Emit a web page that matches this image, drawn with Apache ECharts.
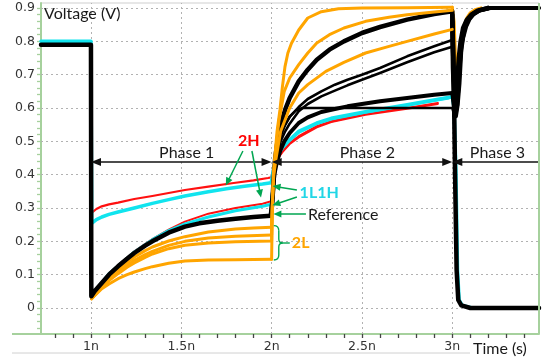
<!DOCTYPE html>
<html><head><meta charset="utf-8">
<script src="https://cdn.jsdelivr.net/npm/echarts@6/dist/echarts.min.js"></script>
<style>html,body{margin:0;padding:0;background:#fff}#c{width:551px;height:359px}</style>
</head><body><div id="c"></div>
<script>
// ---- axis ticks / labels (time in ns, voltage in V) ----
const xLabelValues = [1, 1.5, 2, 2.5, 3];
const xLabelTexts  = ['1n', '1.5n', '2n', '2.5n', '3n'];
const xMinorTicks  = [0.8,0.9,1.0,1.1,1.2,1.3,1.4,1.5,1.6,1.7,1.8,1.9,2.0,2.1,2.2,2.3,2.4,2.5,2.6,2.7,2.8,2.9,3.0,3.1,3.2,3.3,3.4];
const yLabelValues = [0, 0.1, 0.2, 0.3, 0.4, 0.5, 0.6, 0.7, 0.8, 0.9];
const yLabelTexts  = ['0','0.1','0.2','0.3','0.4','0.5','0.6','0.7','0.8','0.9'];
const yMinorTicks  = [-0.06,-0.04,-0.02,0,0.02,0.04,0.06,0.08,0.1,0.12,0.14,0.16,0.18,0.2,0.22,0.24,0.26,0.28,0.3,0.32,0.34,0.36,0.38,0.4,0.42,0.44,0.46,0.48,0.5,0.52,0.54,0.56,0.58,0.6,0.62,0.64,0.66,0.68,0.7,0.72,0.74,0.76,0.78,0.8,0.82,0.84,0.86,0.88,0.9];
const xGridValues = [1, 1.5, 2, 2.5, 3];
const yGridValues = [0, 0.1, 0.2, 0.3, 0.4, 0.5, 0.6, 0.7, 0.8, 0.9];

// ---- traces: [time (ns), voltage (V)] ----
const refTrace = [[0.7235,0.79],[1.0,0.79],[1.002,0.035],[1.02,0.05],[1.06,0.075],[1.1,0.1],[1.15,0.125],[1.2,0.148],[1.24,0.165],[1.3,0.187],[1.34,0.2],[1.43,0.226],[1.52,0.244],[1.6,0.254],[1.7,0.262],[1.8,0.268],[1.9,0.273],[1.995,0.277],[2.003,0.31],[2.012,0.39],[2.02,0.45],[2.035,0.51],[2.05,0.55],[2.075,0.595],[2.1,0.63],[2.15,0.68],[2.2,0.715],[2.25,0.745],[2.32,0.775],[2.4,0.8],[2.5,0.825],[2.6,0.843],[2.75,0.865],[2.9,0.882],[3.0,0.89],[3.008,0.7],[3.015,0.414],[3.024,0.114],[3.033,0.024],[3.05,0.008],[3.1,0],[3.48,0]];
const blackThinA = [[1.995,0.277],[2.005,0.33],[2.012,0.4],[2.025,0.45],[2.05,0.52],[2.075,0.55],[2.1,0.573],[2.15,0.603],[2.2,0.627],[2.275,0.65],[2.35,0.67],[2.42,0.685],[2.5,0.70],[2.6,0.72],[2.75,0.755],[2.9,0.785],[3.0,0.804],[3.006,0.65],[3.012,0.6],[3.02,0.62],[3.03,0.7],[3.04,0.76],[3.055,0.81],[3.07,0.845],[3.09,0.868],[3.12,0.886],[3.17,0.897],[3.22,0.9],[3.48,0.9]];
const blackThinB = [[1.995,0.277],[2.005,0.33],[2.012,0.39],[2.03,0.45],[2.05,0.5],[2.075,0.53],[2.1,0.553],[2.15,0.59],[2.2,0.612],[2.275,0.635],[2.35,0.652],[2.42,0.668],[2.5,0.685],[2.6,0.705],[2.75,0.737],[2.9,0.767],[3.0,0.784],[3.008,0.62],[3.016,0.59],[3.024,0.63],[3.034,0.71],[3.045,0.775],[3.06,0.82],[3.08,0.852],[3.1,0.872],[3.13,0.888],[3.18,0.898],[3.22,0.9],[3.48,0.9]];
const blackLow = [[1.995,0.277],[2.005,0.33],[2.015,0.4],[2.03,0.44],[2.05,0.475],[2.07,0.5],[2.1,0.525],[2.15,0.555],[2.2,0.572],[2.275,0.588],[2.35,0.597],[2.42,0.605],[2.5,0.612],[2.6,0.62],[2.75,0.63],[2.9,0.64],[3.0,0.645],[3.01,0.6],[3.02,0.575],[3.03,0.61],[3.04,0.675],[3.05,0.774],[3.06,0.81],[3.077,0.845],[3.095,0.866],[3.116,0.88],[3.15,0.892],[3.21,0.9],[3.48,0.9]];
const blackFlat = [[1.995,0.277],[2.005,0.33],[2.015,0.41],[2.03,0.47],[2.05,0.515],[2.07,0.545],[2.1,0.575],[2.135,0.593],[2.17,0.6],[3.0,0.6],[3.008,0.585],[3.016,0.578],[3.026,0.62],[3.036,0.7],[3.046,0.77],[3.06,0.82],[3.08,0.852],[3.1,0.87],[3.13,0.886],[3.18,0.897],[3.22,0.9],[3.48,0.9]];
const blackDipA = [[3.0,0.88],[3.004,0.72],[3.01,0.62],[3.018,0.585],[3.026,0.61],[3.034,0.67],[3.042,0.74],[3.052,0.795],[3.066,0.835],[3.085,0.862],[3.11,0.88],[3.15,0.893],[3.2,0.9]];
const blackDipB = [[3.0,0.86],[3.006,0.74],[3.012,0.66],[3.02,0.64],[3.028,0.68],[3.036,0.75],[3.046,0.8],[3.06,0.84],[3.08,0.864],[3.105,0.88],[3.14,0.892],[3.2,0.9]];
const cyanTrace = [[0.7235,0.80],[1.0,0.80],[1.004,0.254],[1.03,0.265],[1.06,0.273],[1.1,0.281],[1.15,0.288],[1.24,0.3],[1.34,0.314],[1.43,0.325],[1.52,0.336],[1.65,0.349],[1.75,0.358],[1.85,0.365],[1.95,0.372],[1.998,0.376],[2.008,0.41],[2.02,0.44],[2.04,0.465],[2.06,0.482],[2.1,0.505],[2.15,0.53],[2.25,0.555],[2.33,0.569],[2.52,0.589],[2.75,0.61],[3.0,0.634],[3.01,0.6],[3.02,0.414],[3.029,0.114],[3.038,0.024],[3.055,0.008],[3.11,0],[3.48,0]];
const cyanLower = [[1.004,0.04],[1.1,0.103],[1.24,0.168],[1.34,0.205],[1.43,0.232],[1.52,0.252],[1.65,0.273],[1.8,0.292],[1.95,0.305],[1.998,0.311],[2.01,0.38],[2.02,0.43],[2.04,0.462],[2.06,0.48],[2.1,0.503],[2.15,0.527],[2.25,0.553],[2.33,0.567],[2.52,0.587],[2.75,0.608],[2.98,0.63]];
const redUpper = [[1.005,0.286],[1.03,0.297],[1.06,0.305],[1.1,0.311],[1.15,0.316],[1.24,0.327],[1.34,0.336],[1.43,0.345],[1.52,0.354],[1.65,0.364],[1.79,0.375],[1.9,0.383],[1.98,0.39],[1.998,0.392],[2.01,0.42],[2.025,0.445],[2.06,0.47],[2.1,0.495],[2.15,0.515],[2.25,0.545],[2.33,0.56],[2.52,0.583],[2.75,0.60],[2.92,0.615]];
const redLower = [[1.004,0.04],[1.1,0.105],[1.24,0.17],[1.34,0.207],[1.43,0.235],[1.52,0.259],[1.65,0.283],[1.8,0.30],[1.95,0.313],[1.998,0.32],[2.01,0.4],[2.025,0.44],[2.06,0.468],[2.1,0.492],[2.15,0.512],[2.25,0.542],[2.33,0.558],[2.52,0.58],[2.75,0.598],[2.92,0.612]];
const orangeP1a = [[1.003,0.028],[1.03,0.045],[1.06,0.065],[1.1,0.09],[1.15,0.115],[1.2,0.137],[1.24,0.153],[1.3,0.172],[1.34,0.183],[1.43,0.201],[1.52,0.214],[1.65,0.228],[1.8,0.237],[1.9,0.24],[2.0,0.242]];
const orangeP1b = [[1.003,0.028],[1.06,0.062],[1.1,0.085],[1.15,0.108],[1.2,0.128],[1.24,0.143],[1.3,0.16],[1.34,0.17],[1.43,0.188],[1.52,0.2],[1.65,0.21],[1.8,0.215],[2.0,0.219]];
const orangeP1c = [[1.003,0.028],[1.06,0.06],[1.1,0.082],[1.15,0.103],[1.2,0.122],[1.24,0.135],[1.3,0.152],[1.34,0.162],[1.43,0.178],[1.52,0.188],[1.65,0.195],[1.8,0.199],[2.0,0.201],[2.001,0.3]];
const orangeP1d = [[1.003,0.028],[1.06,0.058],[1.1,0.072],[1.15,0.088],[1.2,0.1],[1.24,0.108],[1.3,0.118],[1.34,0.124],[1.43,0.134],[1.52,0.141],[1.65,0.144],[1.8,0.145],[2.0,0.146]];
const orangeTop = [[2.0,0.146],[2.004,0.3],[2.01,0.4],[2.018,0.454],[2.03,0.53],[2.046,0.594],[2.06,0.665],[2.074,0.724],[2.09,0.765],[2.11,0.794],[2.15,0.834],[2.2,0.87],[2.275,0.889],[2.37,0.898],[2.5,0.9],[2.75,0.901],[3.0,0.902]];
const orangeMid = [[2.0,0.242],[2.005,0.33],[2.012,0.41],[2.02,0.46],[2.04,0.56],[2.07,0.65],[2.1,0.69],[2.15,0.73],[2.2,0.765],[2.25,0.795],[2.32,0.82],[2.4,0.84],[2.52,0.86],[2.65,0.872],[2.75,0.88],[2.9,0.888],[3.0,0.893]];
const orangeLow = [[2.0,0.219],[2.005,0.33],[2.012,0.4],[2.025,0.45],[2.05,0.53],[2.1,0.6],[2.15,0.645],[2.2,0.67],[2.3,0.71],[2.4,0.737],[2.52,0.765],[2.65,0.785],[2.75,0.8],[2.9,0.822],[3.0,0.836]];
const orangeTopDip = [[3.0,0.902],[3.01,0.86],[3.018,0.75],[3.025,0.63],[3.032,0.66],[3.04,0.74],[3.05,0.8],[3.06,0.838],[3.08,0.87],[3.1,0.886],[3.13,0.896],[3.16,0.9]];
const orangeMidDip = [[3.0,0.893],[3.008,0.8],[3.016,0.68],[3.024,0.64],[3.032,0.67],[3.042,0.75],[3.055,0.81],[3.07,0.85],[3.09,0.875],[3.12,0.892],[3.16,0.899]];
const orangeLowDip = [[3.0,0.836],[3.008,0.74],[3.016,0.67],[3.024,0.64],[3.034,0.69],[3.045,0.77],[3.06,0.825],[3.08,0.86],[3.1,0.88],[3.13,0.894],[3.16,0.899]];

// phase annotation extents (ns) and level (V)
const phaseLevel = 0.438;
const phaseBounds = [1, 2, 3, 3.48];
const phaseNames = ['Phase 1', 'Phase 2', 'Phase 3'];

const BLACK = '#000000', ORANGE = '#ffa500', CYAN = '#10e4ee', RED = '#ff1010', GREEN = '#00a651', AXISG = '#a6d19d';

function trace(name, data, color, width) {
  return {type:'line', name, data, symbol:'none', showSymbol:false, smooth:false, silent:true, animation:false, z:3,
    lineStyle:{color, width, join:'round', cap:'round'}, itemStyle:{color}, clip:true};
}
function labelFor(values, texts) {
  return v => { let bi = 0; values.forEach((x,i)=>{ if (Math.abs(x-v) < Math.abs(values[bi]-v)) bi = i; }); return texts[bi]; };
}

const chart = echarts.init(document.getElementById('c'), null, {renderer:'canvas'});
const halfHead = 0.028;
const phaseLines = phaseNames.map((nm, i) => {
  const a = phaseBounds[i], b = phaseBounds[i+1];
  const last = i === phaseNames.length - 1;
  return [{coord:[a + halfHead, phaseLevel], symbol:'triangle'}, {coord:[last ? b : b - halfHead, phaseLevel], symbol: last ? 'none' : 'triangle'}];
});
const greenArrows = [
  [{coord:[1.841,0.471]},{coord:[1.756,0.378]}],
  [{coord:[1.891,0.471]},{coord:[1.937,0.343]}],
  [{coord:[2.140,0.354]},{coord:[2.027,0.364]}],
  [{coord:[2.140,0.333]},{coord:[2.025,0.312]}],
  [{coord:[2.190,0.282]},{coord:[2.032,0.282]}]
];

const series = [
  {type:'line', data:[], silent:true, animation:false, z:1,
    markLine:{silent:true, animation:false, z:1, symbol:['none','none'], label:{show:false},
      lineStyle:{color:'#b2b2b2', type:[2,3], width:1},
      emphasis:{disabled:true},
      data:[...xGridValues.map(v=>({xAxis:v})), ...yGridValues.map(v=>({yAxis:v}))]}},
  trace('o1', orangeP1a, ORANGE, 3),
  trace('o2', orangeP1b, ORANGE, 3),
  trace('o3', orangeP1c, ORANGE, 3),
  trace('o4', orangeP1d, ORANGE, 3),
  trace('oTopDip', orangeTopDip, ORANGE, 3),
  trace('oMidDip', orangeMidDip, ORANGE, 3),
  trace('oLowDip', orangeLowDip, ORANGE, 3),
  trace('redU', redUpper, RED, 2.2),
  trace('redL', redLower, RED, 2),
  trace('cyanL', cyanLower, CYAN, 3),
  trace('cyan', cyanTrace, CYAN, 3.5),
  trace('bA', blackThinA, BLACK, 2.6),
  trace('bB', blackThinB, BLACK, 2.6),
  trace('bLow', blackLow, BLACK, 4),
  trace('bFlat', blackFlat, BLACK, 2.6),
  trace('bDipA', blackDipA, BLACK, 4.5),
  trace('bDipB', blackDipB, BLACK, 4.5),
  trace('ref', refTrace, BLACK, 4.5),
  trace('oTop', orangeTop, ORANGE, 3),
  trace('oMid', orangeMid, ORANGE, 3),
  trace('oLow', orangeLow, ORANGE, 3),
  {type:'line', data:[], silent:true, animation:false, z:6,
    markLine:{silent:true, animation:false, z:6, symbol:['triangle','triangle'], symbolSize:[8,10], label:{show:false},
      lineStyle:{color:'#111', type:'solid', width:1.5}, emphasis:{disabled:true}, data: phaseLines}},
  {type:'line', data:[], silent:true, animation:false, z:6,
    markLine:{silent:true, animation:false, z:6, symbol:['none','triangle'], symbolSize:[7,8], label:{show:false},
      lineStyle:{color:GREEN, type:'solid', width:1.5}, emphasis:{disabled:true}, data: greenArrows}}
];

chart.setOption({
  animation:false,
  backgroundColor:'#ffffff',
  grid:{left:41, right:12, top:3, bottom:25, show:true, borderColor:'#cfcfcf', borderWidth:1, containLabel:false, outerBoundsMode:'none'},
  xAxis:{type:'value', min:0.7235, max:3.48,
    axisLine:{show:true, onZero:false, lineStyle:{color:AXISG, width:2}},
    axisTick:{show:true, customValues:xMinorTicks, length:4, lineStyle:{color:'#444', width:1.3}},
    axisLabel:{show:true, customValues:xLabelValues, formatter:labelFor(xLabelValues, xLabelTexts), fontFamily:'DejaVu Sans', fontSize:12.5, color:'#333', margin:6},
    splitLine:{show:false}},
  yAxis:{type:'value', min:-0.078, max:0.915,
    axisLine:{show:true, onZero:false, lineStyle:{color:AXISG, width:2}},
    axisTick:{show:true, customValues:yMinorTicks, length:4, lineStyle:{color:AXISG, width:1.3}},
    axisLabel:{show:true, customValues:yLabelValues, formatter:labelFor(yLabelValues, yLabelTexts), fontFamily:'DejaVu Sans', fontSize:12.5, color:'#333', margin:6},
    splitLine:{show:false}},
  series
});

const px = (t, v) => chart.convertToPixel({gridIndex:0}, [t, v]);
const g = [];
const txt = (x, y, text, opts) => g.push({type:'text', x, y, silent:true, z:100,
  style:Object.assign({text, fontFamily:'Lato', fontSize:16, fill:'#1a1a1a', align:'left', verticalAlign:'middle'}, opts||{})});
const lineG = (x1,y1,x2,y2,stroke,w) => g.push({type:'line', silent:true, z:100, shape:{x1,y1,x2,y2}, style:{stroke, lineWidth:w}});
const curveG = (x1,y1,cx,cy,x2,y2,stroke,w) => g.push({type:'bezierCurve', silent:true, z:100, shape:{x1,y1,x2,y2,cpx1:cx,cpy1:cy}, style:{stroke, lineWidth:w, fill:null}});

const tlP = px(0.7235, 0.915), brP = px(3.48, -0.078);
lineG(brP[0], tlP[1], brP[0], brP[1], AXISG, 2);          // right frame
lineG(12, brP[1], tlP[0], brP[1], AXISG, 2);             // axis line extension
lineG(12, 353, 470, 353, '#d0d0d0', 1);                   // bottom rule
txt(tlP[0] + 3, 14, 'Voltage (V)');
txt(473, 349, 'Time (s)');
phaseNames.forEach((nm, i) => {
  const a = phaseBounds[i], b = phaseBounds[i+1];
  const pp = px((a + b) / 2 + (i === 2 ? 0.01 : 0.03), phaseLevel);
  txt(pp[0], pp[1] - 9, nm, {align:'center'});
});
let pq = px(1.874, 0.501); txt(pq[0], pq[1], '2H', {align:'center', fill:'#ff0000', fontWeight:'bold'});
pq = px(2.155, 0.345); txt(pq[0], pq[1], '1L1H', {fill:'#22d6e6', fontWeight:'bold'});
pq = px(2.201, 0.279); txt(pq[0], pq[1], 'Reference');
pq = px(2.112, 0.195); txt(pq[0], pq[1], '2L', {fill:ORANGE, fontWeight:'bold'});
// brace for 2L
const bTop = px(2.012, 0.247), bBot = px(2.012, 0.144), bMid = px(2.012, 0.195);
const bx = bTop[0], ty = bTop[1], by = bBot[1], my = bMid[1];
curveG(bx, ty, bx+5, ty, bx+5, ty+5, GREEN, 1.4);
lineG(bx+5, ty+5, bx+5, my-4, GREEN, 1.4);
curveG(bx+5, my-4, bx+5, my, bx+9, my, GREEN, 1.4);
curveG(bx+9, my, bx+5, my, bx+5, my+4, GREEN, 1.4);
lineG(bx+5, my+4, bx+5, by-5, GREEN, 1.4);
curveG(bx+5, by-5, bx+5, by, bx, by, GREEN, 1.4);
lineG(bx+9, my, bx+16, my, GREEN, 1.4);
chart.setOption({graphic: g});
</script></body></html>
